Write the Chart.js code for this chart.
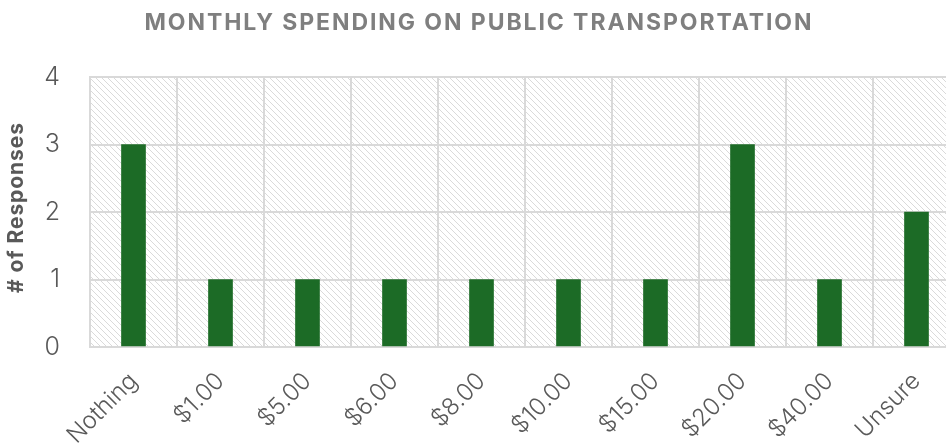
<!DOCTYPE html>
<html>
<head>
<meta charset="utf-8">
<script src="https://cdn.jsdelivr.net/npm/chart.js@4.4.0/dist/chart.umd.min.js"></script>
<style>
  body { margin: 0; overflow: hidden; background: #fff; }
  #wrap { width: 960px; height: 446px; }
</style>
</head>
<body>
<div id="wrap"><canvas id="myChart" width="960" height="446"></canvas></div>
<script>
const categories = ['Nothing', '$1.00', '$5.00', '$6.00', '$8.00', '$10.00', '$15.00', '$20.00', '$40.00', 'Unsure'];
const responses = [3, 1, 1, 1, 1, 1, 1, 3, 1, 2];
const yTicks = [0, 1, 2, 3, 4];
const chartTitle = 'MONTHLY SPENDING ON PUBLIC TRANSPORTATION';
const yTitle = '# of Responses';

// diagonal hatch for the plot area
const makeHatch = () => {
    const c = document.createElement('canvas');
    c.width = 6;
    c.height = 6;
    const g = c.getContext('2d');
    g.fillStyle = '#ffffff';
    g.fillRect(0, 0, 6, 6);
    g.fillStyle = '#dadada';
    for (let i = 0; i < 6; i++) {
        g.fillRect(i, i, 1, 1);
    }
    return c;
}

// stretch text to a given width (the original font is wider than Inter)
const drawSpread = (ctx, text, x, y, width) => {
    ctx.letterSpacing = '0px';
    const w = ctx.measureText(text).width;
    const extra = (width - w) / (text.length - 1);
    ctx.letterSpacing = extra + 'px';
    ctx.fillText(text, x + extra / 2, y);
    ctx.letterSpacing = '0px';
}

const hatchPlugin = {
    id: 'hatch',
    beforeDraw: (chart) => {
        const { ctx, chartArea } = chart;
        ctx.save();
        ctx.fillStyle = ctx.createPattern(makeHatch(), 'repeat');
        ctx.fillRect(chartArea.left, chartArea.top, chartArea.right - chartArea.left, chartArea.bottom - chartArea.top);
        ctx.restore();
    },
    afterDraw: (chart) => {
        const { ctx, chartArea } = chart;
        ctx.save();
        ctx.textAlign = 'center';
        ctx.textBaseline = 'middle';
        ctx.fillStyle = '#7f7f7f';
        ctx.font = 'bold 23px Inter';
        drawSpread(ctx, chartTitle, 478, 23, 667);

        ctx.fillStyle = '#595959';
        ctx.font = 'bold 21px Inter';
        ctx.translate(17, (chartArea.top + chartArea.bottom) / 2 - 4);
        ctx.rotate(-Math.PI / 2);
        drawSpread(ctx, yTitle, 0, 0, 170);
        ctx.restore();
    }
}

const buildChart = () => {
    var ctx = document.getElementById('myChart').getContext('2d');
    var chart = new Chart(ctx, {
        type: 'bar',
        data: {
            labels: categories,
            datasets: [{
                label: yTitle,
                backgroundColor: '#1c6b26',
                data: responses,
                barThickness: 24
            }]
        },
        plugins: [hatchPlugin],
        options: {
            responsive: false,
            animation: false,
            layout: { padding: { top: 77, left: 0, right: 0, bottom: 0 } },
            plugins: {
                legend: { display: false },
                tooltip: { enabled: false },
                title: { display: false }
            },
            scales: {
                x: {
                    grid: { color: '#d9d9d9', lineWidth: 2, drawTicks: false, offset: true },
                    border: { color: '#d9d9d9', width: 2 },
                    ticks: {
                        color: '#595959',
                        font: { family: 'Inter', size: 24, weight: 300 },
                        maxRotation: 45,
                        minRotation: 45,
                        padding: 20
                    },
                    afterFit: (scale) => { scale.height = 99; }
                },
                y: {
                    min: 0,
                    max: 4,
                    afterBuildTicks: (scale) => { scale.ticks = yTicks.map((v) => ({ value: v })); },
                    grid: { color: '#d9d9d9', lineWidth: 2, drawTicks: false },
                    border: { color: '#d9d9d9', width: 2 },
                    ticks: {
                        color: '#595959',
                        font: { family: 'Inter', size: 25, weight: 300 },
                        padding: 30
                    },
                    afterFit: (scale) => { scale.width = 90; }
                }
            }
        }
    });
}

window.onload = () => {
    buildChart();
}
</script>
</body>
</html>
